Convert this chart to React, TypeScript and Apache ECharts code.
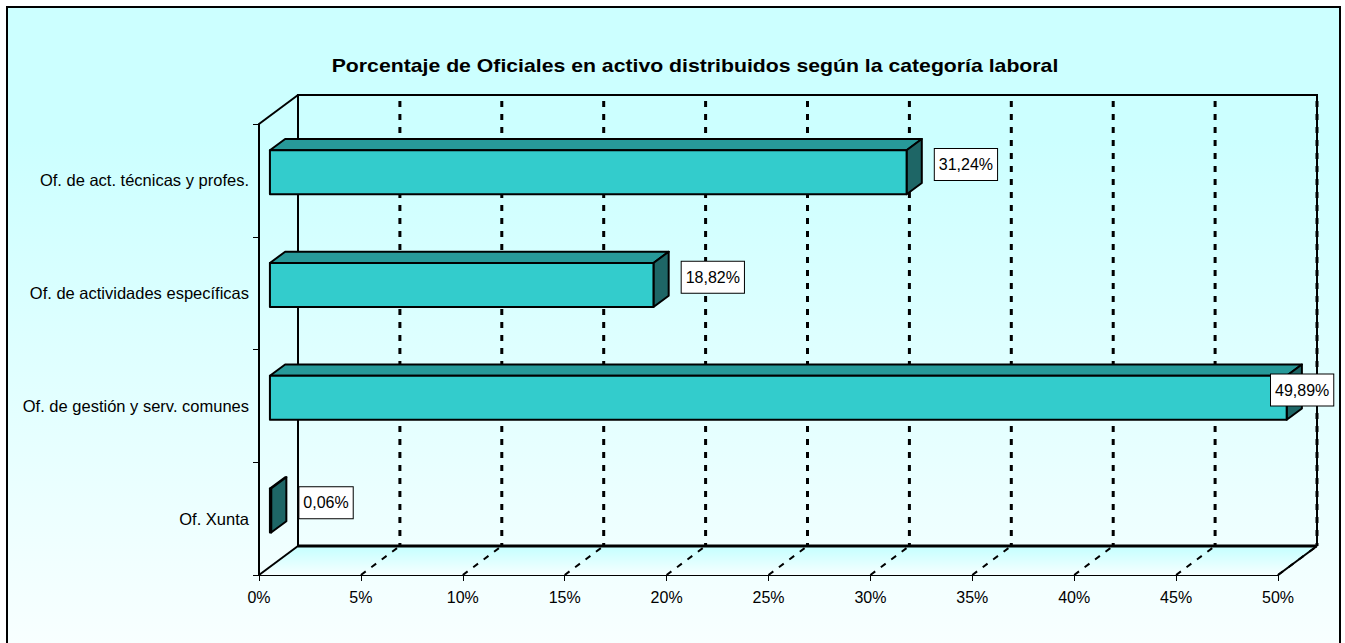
import React, { useEffect, useRef } from "react";
import * as echarts from "echarts";

const TITLE = "Porcentaje de Oficiales en activo distribuidos según la categoría laboral";
const categories = [
  "Of. Xunta",
  "Of. de gestión y serv. comunes",
  "Of. de actividades específicas",
  "Of. de act. técnicas y profes.",
];
const values = [0.06, 49.89, 18.82, 31.24];
const gridTicks = [5, 10, 15, 20, 25, 30, 35, 40, 45, 50];

const FONT = 'Arial, "Liberation Sans", sans-serif';
const DX = 39;
const DY = -29;
const F1 = 0.28;
const F2 = 0.67;

function fmt(v: number) {
  return v.toFixed(2).replace(".", ",") + "%";
}

export default function App() {
  const ref = useRef<HTMLDivElement>(null);
  useEffect(() => {
    if (!ref.current) return;
    const chart = echarts.init(ref.current, undefined, { renderer: "svg" });

    const wallRender = (params: any, api: any) => {
      const cs = params.coordSys;
      const x0 = cs.x;
      const y0 = cs.y;
      const h = cs.height;
      const xr = api.coord([50, 0])[0];
      const yb = y0 + h;
      return {
        type: "group",
        children: [
          {
            type: "polygon",
            shape: {
              points: [
                [x0, yb],
                [xr, yb],
                [xr + DX, yb + DY],
                [x0 + DX, yb + DY],
              ],
            },
            style: {
              fill: new echarts.graphic.LinearGradient(0, 0, 0, 1, [
                { offset: 0, color: "#C4FFFF" },
                { offset: 1, color: "#F6FFFF" },
              ]),
              stroke: "none",
            },
          },
          {
            type: "polyline",
            shape: {
              points: [
                [x0 + DX, yb + DY],
                [x0 + DX, y0 + DY],
                [xr + DX, y0 + DY],
                [xr + DX, yb + DY],
              ],
            },
            style: { stroke: "#000", lineWidth: 2, fill: "none" },
          },
          {
            type: "line",
            shape: { x1: x0 + DX, y1: yb + DY, x2: xr + DX, y2: yb + DY },
            style: { stroke: "#000", lineWidth: 3 },
          },
          {
            type: "line",
            shape: { x1: x0, y1: y0, x2: x0 + DX, y2: y0 + DY },
            style: { stroke: "#000", lineWidth: 2 },
          },
          {
            type: "line",
            shape: { x1: x0, y1: yb, x2: x0 + DX, y2: yb + DY },
            style: { stroke: "#000", lineWidth: 2 },
          },
          {
            type: "line",
            shape: { x1: xr, y1: yb, x2: xr + DX, y2: yb + DY },
            style: { stroke: "#000", lineWidth: 2 },
          },
        ],
      };
    };

    const tickRender = (params: any, api: any) => {
      const cs = params.coordSys;
      const y0 = cs.y;
      const yb = cs.y + cs.height;
      const xf = api.coord([api.value(0), 0])[0];
      const dash = { stroke: "#000", lineWidth: 3, lineDash: [6, 7] };
      return {
        type: "group",
        children: [
          {
            type: "line",
            shape: { x1: xf + DX, y1: y0 + DY + 6, x2: xf + DX, y2: yb + DY },
            style: dash,
          },
          {
            type: "line",
            shape: { x1: xf, y1: yb, x2: xf + DX, y2: yb + DY },
            style: { stroke: "#000", lineWidth: 2, lineDash: [6, 7] },
          },
        ],
      };
    };

    const barRender = (params: any, api: any) => {
      const v = api.value(0);
      const i = api.value(1);
      const p = api.coord([v, i]);
      const p0 = api.coord([0, i]);
      const band = api.size([0, 1])[1];
      const hh = band * 0.195;
      const xL = p0[0] + F1 * DX;
      const xR = p[0] + F1 * DX;
      const yC = p[1] + F1 * DY;
      const yT = yC - hh;
      const yB = yC + hh;
      const bx = (F2 - F1) * DX;
      const by = (F2 - F1) * DY;
      const stroke = { stroke: "#000", lineWidth: 2, lineJoin: "round" };
      let lx = xR + bx + 13;
      const boxW = 62;
      const limit = 1333;
      if (lx + boxW > limit) lx = limit - boxW;
      const ly = yC + by / 2 - 2;
      return {
        type: "group",
        children: [
          {
            type: "polygon",
            shape: {
              points: [
                [xL, yT],
                [xR, yT],
                [xR + bx, yT + by],
                [xL + bx, yT + by],
              ],
            },
            style: { fill: "#279999", ...stroke },
          },
          {
            type: "polygon",
            shape: {
              points: [
                [xR, yT],
                [xR + bx, yT + by],
                [xR + bx, yB + by],
                [xR, yB],
              ],
            },
            style: { fill: "#1E6666", ...stroke },
          },
          {
            type: "rect",
            shape: { x: xL, y: yT, width: xR - xL, height: yB - yT },
            style: { fill: "#33CCCC", ...stroke },
          },
          {
            type: "text",
            x: lx,
            y: ly,
            style: {
              text: fmt(v),
              fill: "#000",
              fontSize: 16,
              fontFamily: FONT,
              align: "left",
              verticalAlign: "middle",
              backgroundColor: "#fff",
              borderColor: "#000",
              borderWidth: 1,
              padding: [8, 4, 7, 4],
            },
          },
        ],
      };
    };

    chart.setOption({
      animation: false,
      graphic: [
        {
          type: "rect",
          z: -100,
          shape: { x: 7, y: 7, width: 1333, height: 660 },
          style: {
            fill: new echarts.graphic.LinearGradient(0, 0, 0, 1, [
              { offset: 0, color: "#CCFFFF" },
              { offset: 0.2, color: "#CCFFFF" },
              { offset: 1, color: "#FAFFFF" },
            ]),
            stroke: "#000",
            lineWidth: 2,
          },
        },
        {
          type: "text",
          z: 10,
          x: 695,
          y: 66,
          scaleX: 1.18,
          style: {
            text: TITLE,
            fill: "#000",
            fontSize: 18,
            fontWeight: "bold",
            fontFamily: FONT,
            align: "center",
            verticalAlign: "middle",
          },
        },
      ],
      grid: { left: 259, right: 67, top: 124, bottom: 68, containLabel: false },
      xAxis: {
        type: "value",
        min: 0,
        max: 50,
        interval: 5,
        axisLine: { show: true, lineStyle: { color: "#000", width: 2 } },
        axisTick: { show: true, length: 6, lineStyle: { color: "#000", width: 1 } },
        axisLabel: {
          formatter: "{value}%",
          color: "#000",
          fontSize: 16,
          fontFamily: FONT,
          margin: 14,
        },
        splitLine: { show: false },
      },
      yAxis: {
        type: "category",
        data: categories,
        axisLine: { show: true, lineStyle: { color: "#000", width: 2 } },
        axisTick: { show: true, length: 6, lineStyle: { color: "#000", width: 1 } },
        axisLabel: { color: "#000", fontSize: 16.5, fontFamily: FONT, margin: 10 },
        splitLine: { show: false },
      },
      series: [
        {
          type: "custom",
          z: 1,
          clip: false,
          silent: true,
          renderItem: wallRender,
          data: [[0, 0]],
          encode: { x: 0, y: 1 },
        },
        {
          type: "custom",
          z: 2,
          clip: false,
          silent: true,
          renderItem: tickRender,
          data: gridTicks.map((t) => [t, 0]),
          encode: { x: 0, y: 1 },
        },
        {
          type: "custom",
          z: 3,
          clip: false,
          renderItem: barRender,
          data: values.map((v, i) => [v, i]),
          encode: { x: 0, y: 1 },
        },
      ],
    });
    return () => chart.dispose();
  }, []);
  return (
    <div
      ref={ref}
      style={{ position: "absolute", left: 0, top: 0, width: 1345, height: 643 }}
    />
  );
}
